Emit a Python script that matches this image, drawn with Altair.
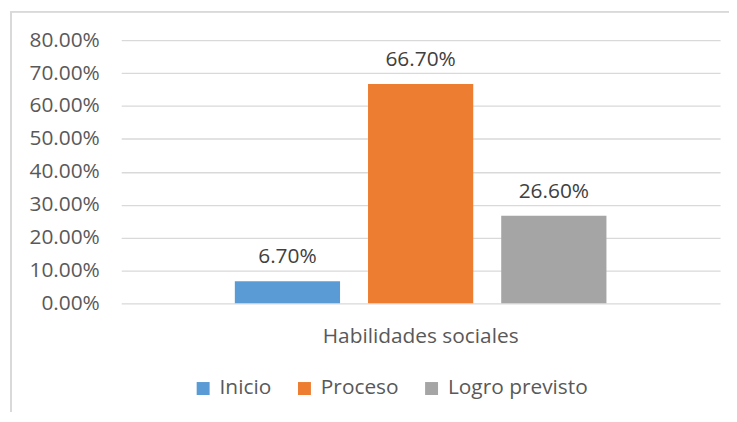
import altair as alt
import pandas as pd

categorias = ["Habilidades sociales", "Habilidades sociales", "Habilidades sociales"]
series = ["Inicio", "Proceso", "Logro previsto"]
valores = [0.067, 0.667, 0.266]
colores = ["#5B9BD5", "#ED7D31", "#A5A5A5"]
ticks = [0.0, 0.1, 0.2, 0.3, 0.4, 0.5, 0.6, 0.7, 0.8]

df = pd.DataFrame({"categoria": categorias, "serie": series, "valor": valores})

FONT = "Open Sans"
TXT = "#595959"
FS = 21

base = alt.Chart(df).encode(
    x=alt.X("categoria:N", title=None,
            scale=alt.Scale(paddingInner=0, paddingOuter=0),
            axis=alt.Axis(labelFontSize=FS, labelColor=TXT, labelFont=FONT, grid=False,
                          domain=False, ticks=False, labelPadding=22, labelAngle=0,
                          labelLimit=0)),
    xOffset=alt.XOffset("serie:N", sort=series,
                        scale=alt.Scale(paddingInner=0.21, paddingOuter=0.853)),
    y=alt.Y("valor:Q", title=None,
            scale=alt.Scale(domain=[0, 0.8]),
            axis=alt.Axis(format=".2%", values=ticks, labelOverlap=False,
                          labelFontSize=FS, labelColor=TXT, labelFont=FONT,
                          domain=False, ticks=False, labelPadding=22,
                          gridColor="#D9D9D9", gridWidth=1.3)),
)

bars = base.mark_bar().encode(
    color=alt.Color("serie:N", sort=series,
                    scale=alt.Scale(domain=series, range=colores),
                    legend=alt.Legend(title=None, orient="none", legendX=72, legendY=340,
                                      direction="horizontal", symbolType="square",
                                      symbolSize=170, symbolStrokeWidth=0,
                                      labelFontSize=FS, labelColor=TXT, labelFont=FONT,
                                      columnPadding=22, labelOffset=6)),
)

labels = base.mark_text(baseline="alphabetic", dy=-18, fontSize=FS, color="#404040", font=FONT).encode(
    text=alt.Text("valor:Q", format=".2%"),
)

border = alt.Chart(df).mark_rect(fill=None, stroke="#D9D9D9", strokeWidth=1.5).encode(
    x=alt.value(-111), x2=alt.value(640), y=alt.value(-28.5), y2=alt.value(420)
)

chart = alt.layer(border, bars, labels).properties(
    width=603, height=265,
    autosize=alt.AutoSizeParams(type="none"),
    padding={"left": 114, "top": 31, "right": 9, "bottom": 108},
).configure(font=FONT).configure_view(stroke=None)

chart.save("out.html", embed_options={"renderer": "svg", "actions": False})
